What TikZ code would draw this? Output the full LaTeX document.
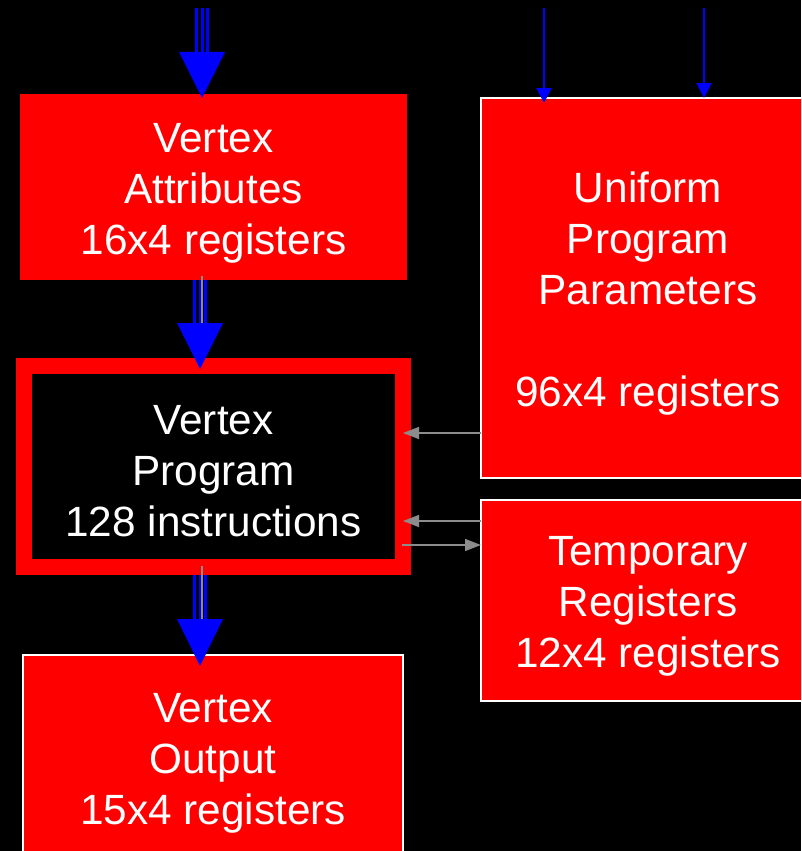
\documentclass[tikz,border=0pt]{standalone}
\usepackage{fontspec}
\setmainfont{Liberation Sans}
\usetikzlibrary{arrows.meta,calc}
\definecolor{boxred}{RGB}{255,0,0}
\definecolor{flowblue}{RGB}{0,0,255}
\definecolor{linkgrey}{RGB}{140,140,140}

\begin{document}
\begin{tikzpicture}[x=1pt,y=-1pt,
  lbl/.style={text=white, align=center, font=\fontsize{42.3}{51}\selectfont, inner sep=0pt, outer sep=0pt},
  plainbox/.style={fill=boxred, draw=none, inner sep=0pt, outer sep=0pt},
  edgebox/.style={fill=boxred, draw=white, line width=1.5pt, inner sep=0pt, outer sep=0pt},
  progbox/.style={fill=black, draw=boxred, line width=16pt, inner sep=0pt, outer sep=0pt},
  thinflow/.style={draw=flowblue, line width=2pt, -{Triangle[width=15pt,length=15pt]}},
  link/.style={draw=linkgrey, line width=1.5pt, -{Triangle[width=12pt,length=16pt]}},
  bigshaft/.style={draw=flowblue, line width=14pt,
    postaction={draw=black, line width=8pt},
    postaction={draw=flowblue, line width=3pt}},
  bighead/.style={fill=flowblue},
  greycore/.style={draw=linkgrey, line width=1.5pt}
]
\clip (0,0) rectangle (801,851);
\fill[black] (0,0) rectangle (801,851);

% register files and program store
\node[plainbox, minimum width=387pt, minimum height=186pt] (attr) at (213.5,187) {};
\node[edgebox, minimum width=334pt, minimum height=380pt] (uni) at (648,288) {};
\node[progbox, minimum width=379pt, minimum height=201pt] (prog) at (213.5,466.5) {};
\node[edgebox, minimum width=334pt, minimum height=201pt] (temp) at (648,600.5) {};
\node[edgebox, minimum width=380pt, minimum height=206pt] (out) at (213,758) {};

% box captions
\node[lbl] (attrtext) at ($(attr.center)+(0,6)$) {Vertex\\Attributes\\16x4 registers};
\node[lbl] (unitext) at ($(uni.center)+(0,6)$) {Uniform\\Program\\Parameters\\ \\96x4 registers};
\node[lbl] (progtext) at ($(prog.center)+(0,5)$) {Vertex\\Program\\128 instructions};
\node[lbl] (temptext) at ($(temp.center)+(0,6)$) {Temporary\\Registers\\12x4 registers};
\node[lbl] (outtext) at ($(out.center)+(0,5)$) {Vertex\\Output\\15x4 registers};

% end points of the incoming flows
\coordinate (in1) at (202,8);
\coordinate (t1) at (202,98);
\coordinate (t2) at (200,369);
\coordinate (t3) at (200,666);
\coordinate (u1) at (544,8);
\coordinate (u2) at (704,8);

% wide data-flow arrows
\draw[bigshaft] (in1) -- ($(t1)+(0,-45)$);
\fill[bighead] (t1) -- ++(-23,-46) -- ++(46,0) -- cycle;

\draw[bigshaft] (attr.south -| t2) -- ($(t2)+(0,-44)$);
\draw[greycore] ($(attr.south -| t2)+(2,-4)$) -- ($(t2)+(2,-46)$);
\fill[bighead] (t2) -- ++(-23,-46) -- ++(46,0) -- cycle;

\draw[bigshaft] ($(prog.south -| t3)+(0,8)$) -- ($(t3)+(0,-46)$);
\draw[greycore] ($(prog.south -| t3)+(2,-1)$) -- ($(t3)+(2,-47)$);
\fill[bighead] (t3) -- ++(-23,-47) -- ++(46,0) -- cycle;

% uniform inputs
\draw[thinflow] (u1) -- ($(uni.north -| u1)+(0,5)$);
\draw[thinflow] (u2) -- (uni.north -| u2);

% register reads and writes
\draw[link] (uni.west |- 0,433) -- (prog.east |- 0,433);
\draw[link] (temp.west |- 0,521) -- (prog.east |- 0,521);
\draw[link] ($(prog.east |- 0,545)+(-1,0)$) -- (temp.west |- 0,545);
\end{tikzpicture}
\end{document}
